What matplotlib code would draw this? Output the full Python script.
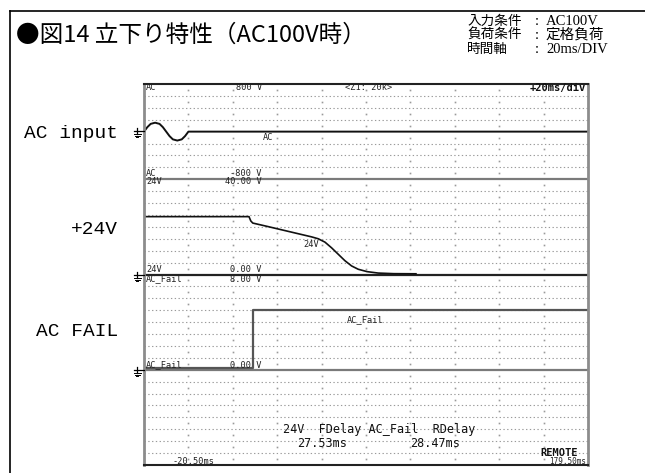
import numpy as np
import matplotlib
matplotlib.use("Agg")
import matplotlib.pyplot as plt
from matplotlib.lines import Line2D

# --- data (time in ms) ---
t_left, t_div = -20.5, 20.0
ac_t = [-20.5, -19.0, -17.5, -15.5, -13.5, -12.0, -10.5, -9.0, -7.5, -5.5, -3.5, -2.0, -0.5, 179.5]
ac_v = [0, 75, 130, 150, 130, 75, 0, -75, -130, -150, -130, -75, 0, 0]          # V, 200 V/div

v24_t = [-20.5, 26.8, 27.6, 28.5, 35.0, 45.0, 55.0, 58.0, 61.0, 64.0, 67.0, 70.0, 73.0, 76.0, 80.0, 85.0, 92.0, 102.0]
v24_v = [24.3, 24.3, 22.5, 21.6, 20.2, 18.0, 15.8, 15.0, 13.6, 11.2, 8.5, 5.8, 3.6, 2.2, 1.2, 0.6, 0.35, 0.3]  # V, 5 V/div

fail_t = [-20.5, 28.47, 28.47, 179.5]
fail_v = [0.15, 0.15, 5.05, 5.05]                                                 # V, 1 V/div

fdelay, rdelay = "27.53ms", "28.47ms"
cond_keys = ["入力条件", "負荷条件", "時間軸"]
cond_vals = ["AC100V", "定格負荷", "20ms/DIV"]

W, H = 645, 473
fig = plt.figure(figsize=(W / 100, H / 100), dpi=100)

# outer frame (only top/left visible)
fig.add_artist(Line2D([10 / W, 10 / W], [0, 1 - 11 / H], color="black", lw=1.2))
fig.add_artist(Line2D([10 / W, 1], [1 - 11 / H, 1 - 11 / H], color="black", lw=1.2))

jp = ["Noto Sans CJK JP", "DejaVu Sans"]
serif = ["Liberation Serif", "Noto Sans CJK JP"]
fig.text(16 / W, 1 - 35 / H, "●図14 立下り特性（AC100V時）", family=jp, fontsize=17,
         va="center", ha="left")
for i, (k, v) in enumerate(zip(cond_keys, cond_vals)):
    yb = 1 - (25 + 14 * i) / H
    fig.text(467 / W, yb, k, family=jp, fontsize=9.8, va="baseline", ha="left")
    fig.text(535 / W, yb, ":", family=serif, fontsize=10.5, va="baseline", ha="left")
    fig.text(546 / W, yb, v, family=serif, fontsize=10.5, va="baseline", ha="left")

# left channel names
for s, y in [("AC input", 133), ("+24V", 230), ("AC FAIL", 332)]:
    fig.text(118 / W, 1 - y / H, s, family="Liberation Mono", fontsize=14,
             va="center", ha="right")

# --- scope screen ---
x0, x1, y0, y1 = 144, 588, 84, 465
ax = fig.add_axes([x0 / W, 1 - y1 / H, (x1 - x0) / W, (y1 - y0) / H])
ax.set_xlim(t_left, t_left + 10 * t_div)
ax.set_ylim(0, 32)
ax.set_xticks([]); ax.set_yticks([])
for s in ["left", "right"]:
    ax.spines[s].set_color("#8c8c8c"); ax.spines[s].set_linewidth(2)
for s in ["top", "bottom"]:
    ax.spines[s].set_color("#222222"); ax.spines[s].set_linewidth(1.5)

grid_c = "#9a9a9a"
for k in range(1, 32):
    if k % 8 == 0:
        ax.axhline(k, color="#7a7a7a" if k != 16 else "#222222", lw=1.6)
    elif k != 28:
        ax.axhline(k, color=grid_c, lw=0.8, ls=(0, (1.2, 2.2)))
cols = [t_left + t_div * i for i in range(1, 10)]
for c in cols:
    ax.plot([c] * 32, np.arange(32) + 0.5, ls="none", marker="s", ms=1.2,
            color=grid_c, mec="none")

# traces
ax.plot(ac_t, 28 + np.array(ac_v) / 200, color="#111111", lw=1.4)
ax.plot(v24_t, 16 + np.array(v24_v) / 5, color="#111111", lw=1.2)
ax.plot(fail_t, 8 + np.array(fail_v), color="#555555", lw=1.6)

mono = "DejaVu Sans Mono"
def px(x, y):
    return (x - x0) / (x1 - x0), 1 - (y - y0) / (y1 - y0)

small = dict(family=mono, fontsize=6.2, color="#222222", transform=ax.transAxes, va="center")
for s, x, y, ha in [("AC", 146, 87, "left"), ("800 V", 262, 87, "right"),
                    ("<Z1: 20k>", 345, 87, "left"),
                    ("AC", 146, 173, "left"), ("-800 V", 262, 173, "right"),
                    ("24V", 146, 182, "left"), ("40.00 V", 262, 182, "right"),
                    ("24V", 146, 269, "left"), ("0.00 V", 262, 269, "right"),
                    ("AC_Fail", 146, 279, "left"), ("8.00 V", 262, 279, "right"),
                    ("AC_Fail", 146, 365, "left"), ("0.00 V", 262, 365, "right"),
                    ("AC", 263, 138, "left"), ("24V", 303, 244, "left"),
                    ("AC_Fail", 347, 320, "left"), ("-20.50ms", 172, 461, "left")]:
    ax.text(*px(x, y), s, ha=ha, **small)
ax.text(*px(586, 461.5), "179.50ms", ha="right", family=mono, fontsize=5.5,
        color="#222222", transform=ax.transAxes, va="center")
ax.text(*px(578, 453), "REMOTE", ha="right", family=mono, fontsize=7.5,
        weight="bold", color="#111111", transform=ax.transAxes, va="center")
ax.text(*px(586, 88), "+20ms/div", ha="right", family=mono, fontsize=7.5,
        weight="bold", color="#111111", transform=ax.transAxes, va="center")

mid = dict(family=mono, fontsize=8.5, color="#111111", transform=ax.transAxes, va="center")
ax.text(*px(283, 429), "24V  FDelay AC_Fail  RDelay", ha="left", **mid)
ax.text(*px(297, 443), fdelay, ha="left", **mid)
ax.text(*px(410, 443), rdelay, ha="left", **mid)

# ground markers at left of screen
for gy in [131, 275, 370]:
    fig.add_artist(Line2D([134 / W, 144 / W], [1 - gy / H] * 2, color="black", lw=0.9))
    fig.add_artist(Line2D([137 / W, 137 / W], [1 - (gy - 3) / H, 1 - (gy + 3) / H], color="black", lw=0.9))
    for j, hw in enumerate([3.5, 2.5, 1.2]):
        yy = 1 - (gy + 3 + j * 1.6) / H
        fig.add_artist(Line2D([(137 - hw) / W, (137 + hw) / W], [yy, yy], color="black", lw=0.7))

fig.savefig("out.png", dpi=100)
